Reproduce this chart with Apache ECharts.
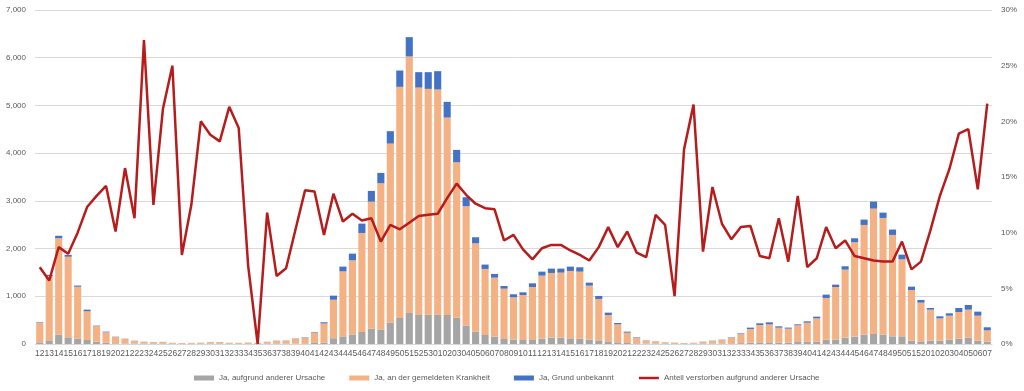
<!DOCTYPE html>
<html><head><meta charset="utf-8">
<script src="https://cdn.jsdelivr.net/npm/echarts/dist/echarts.min.js"></script>
<style>html,body{margin:0;padding:0;background:#fff}#c{width:1024px;height:391px}</style>
</head><body><div id="c"></div><script>
const weeks = ['12','13','14','15','16','17','18','19','20','21','22','23','24','25','26','27','28','29','30','31','32','33','34','35','36','37','38','39','40','41','42','43','44','45','46','47','48','49','50','51','52','53',
'01','02','03','04','05','06','07','08','09','10','11','12','13','14','15','16','17','18','19','20','21','22','23','24','25','26','27','28','29','30','31','32','33','34','35','36','37','38','39','40','41','42','43','44','45','46','47','48','49','50','51','52',
'01','02','03','04','05','06','07'];
const otherCause = [35,77,196,140,112,84,49,28,14,10,8,5,5,5,3,2,3,3,5,4,3,3,2,0,5,4,5,8,12,22,30,120,160,200,252,322,301,447,545,650,608,615,
615,608,552,384,259,189,154,105,91,84,84,112,133,133,119,112,91,77,56,35,21,14,7,5,3,1,3,5,4,10,10,13,18,27,34,35,30,28,56,45,50,91,91,133,154,196,210,196,161,161,70,56,
70,70,91,112,133,70,49];
const reportedDisease = [417,1347,2022,1689,1088,601,326,219,135,98,59,42,33,38,21,17,18,24,32,33,20,21,26,19,37,62,66,101,120,211,400,808,1362,1554,2075,2662,3068,3754,4845,5376,4767,4732,
4719,4138,3257,2503,1852,1384,1237,1055,888,943,1111,1321,1356,1363,1412,1405,1132,867,552,377,217,116,65,47,29,25,15,18,41,55,75,119,194,288,364,377,312,294,335,402,488,874,1104,1426,1978,2299,2628,2446,2125,1614,1062,811,
650,468,503,559,587,524,238];
const unknownReason = [10,25,50,40,25,35,10,12,5,4,3,2,2,2,1,1,1,1,3,3,2,1,2,1,3,4,4,6,8,12,25,85,100,140,196,224,217,259,342,405,322,350,
384,329,259,189,126,91,77,56,63,56,77,84,91,84,91,91,63,63,49,28,21,10,5,4,3,2,2,2,4,5,6,8,12,28,35,42,28,21,21,28,35,70,49,70,84,112,147,112,112,98,70,56,
35,42,49,84,98,84,63];
const shareOtherCause = [6.9,5.7,8.7,8.1,10.0,12.3,13.3,14.2,10.1,15.8,11.3,27.3,12.5,21.1,25.0,8.0,12.5,20.0,18.8,18.2,21.3,19.4,7.0,0,11.8,6.1,6.8,10.3,13.8,13.7,9.8,13.5,11.0,11.7,11.1,11.3,9.2,10.7,10.3,10.9,11.5,11.6,
11.7,13.1,14.4,13.4,12.6,12.2,12.1,9.3,9.8,8.5,7.6,8.6,8.9,8.9,8.4,8.0,7.5,8.7,10.5,8.7,10.1,8.2,7.8,11.6,10.7,4.3,17.5,21.5,8.3,14.1,10.8,9.4,10.5,10.6,7.9,7.7,11.3,7.4,13.3,6.9,7.7,10.5,8.6,9.3,7.9,7.7,7.5,7.4,7.4,9.2,6.7,7.4,
10.2,13.3,15.7,18.9,19.3,13.9,21.6];
const names = ['Ja, aufgrund anderer Ursache','Ja, an der gemeldeten Krankheit','Ja, Grund unbekannt','Anteil verstorben aufgrund anderer Ursache'];

const font = 'Liberation Sans';
const txt = '#595959';
const lineColor = '#B71C1C';
const chart = echarts.init(document.getElementById('c'), null, {renderer:'canvas'});
chart.setOption({
  animation:false,
  textStyle:{fontFamily:font},
  grid:{left:35,right:32,top:10,bottom:47,containLabel:false},
  legend:{
    left:189, top:369, itemWidth:20, itemHeight:5, itemGap:24,
    textStyle:{fontFamily:font,fontSize:8,color:txt},
    data:[{name:names[0],icon:'rect'},{name:names[1],icon:'rect'},{name:names[2],icon:'rect'},
      {name:names[3],itemStyle:{color:'rgba(0,0,0,0)',borderWidth:0,opacity:0},lineStyle:{color:lineColor,width:2.5}}]
  },
  xAxis:{
    type:'category', data:weeks,
    axisLine:{lineStyle:{color:'#D9D9D9'}},
    axisTick:{show:false},
    axisLabel:{interval:0,fontFamily:font,fontSize:8.5,color:txt,margin:5}
  },
  yAxis:[{
    type:'value', min:0, max:7000, interval:1000,
    axisLine:{show:false}, axisTick:{show:false},
    splitLine:{lineStyle:{color:'#D9D9D9'}},
    axisLabel:{fontFamily:font,fontSize:8,color:txt,margin:9,formatter:v=>v.toLocaleString('en-US')}
  },{
    type:'value', min:0, max:30, interval:5,
    axisLine:{show:false}, axisTick:{show:false}, splitLine:{show:false},
    axisLabel:{fontFamily:font,fontSize:8,color:txt,margin:9,formatter:'{value}%'}
  }],
  series:[
    {name:names[0],type:'bar',stack:'t',data:otherCause,itemStyle:{color:'#A5A5A5'},barCategoryGap:'25%'},
    {name:names[1],type:'bar',stack:'t',data:reportedDisease,itemStyle:{color:'#F4B183'}},
    {name:names[2],type:'bar',stack:'t',data:unknownReason,itemStyle:{color:'#4472C4'}},
    {name:names[3],type:'line',yAxisIndex:1,data:shareOtherCause,symbol:'none',showSymbol:false,
      lineStyle:{color:lineColor,width:2.5},itemStyle:{color:lineColor},z:5}
  ]
});
</script></body></html>
